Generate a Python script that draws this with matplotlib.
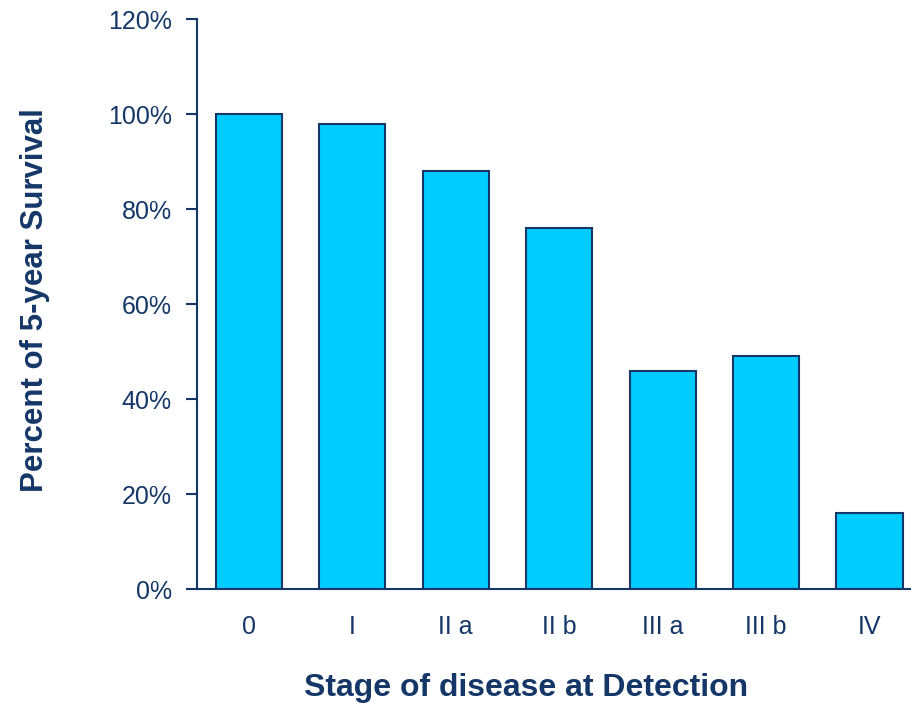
import matplotlib.pyplot as plt
from matplotlib.ticker import FuncFormatter

plt.rcParams['font.family'] = ['Liberation Sans', 'DejaVu Sans']

stages = ["0", "I", "II a", "II b", "III a", "III b", "IV"]
survival = [100, 98, 88, 76, 46, 49, 16]

navy = "#143768"
fig = plt.figure(figsize=(9.12, 7.06), dpi=100)
ax = fig.add_axes([0.216, 0.1657, 0.784, 0.8073])

ax.bar(range(len(stages)), survival, width=0.64, color="#00ccff",
       edgecolor=navy, linewidth=1.5, zorder=2)

ax.set_xlim(-0.5, 6.41)
ax.set_ylim(0, 120)
ax.set_yticks(range(0, 121, 20))
ax.yaxis.set_major_formatter(FuncFormatter(lambda v, p: f"{v:.0f}%"))
ax.set_xticks(range(len(stages)))
ax.set_xticklabels(stages)

for s in ["top", "right"]:
    ax.spines[s].set_visible(False)
for s in ["left", "bottom"]:
    ax.spines[s].set_color(navy)
    ax.spines[s].set_linewidth(1.5)

ax.tick_params(axis="y", length=8, width=1.5, color=navy, labelcolor=navy,
               labelsize=18, pad=10)
ax.tick_params(axis="x", length=0, labelcolor=navy, labelsize=18, pad=19)

# axis titles placed in figure coords to match the reference layout
fig.text(0.038, 0.575, "Percent of 5-year Survival", rotation=90,
         ha="center", va="center", fontsize=22.5, fontweight="bold", color=navy)
fig.text(0.577, 0.026, "Stage of disease at Detection",
         ha="center", va="center", fontsize=23, fontweight="bold", color=navy)

fig.savefig("out.png", dpi=100)
